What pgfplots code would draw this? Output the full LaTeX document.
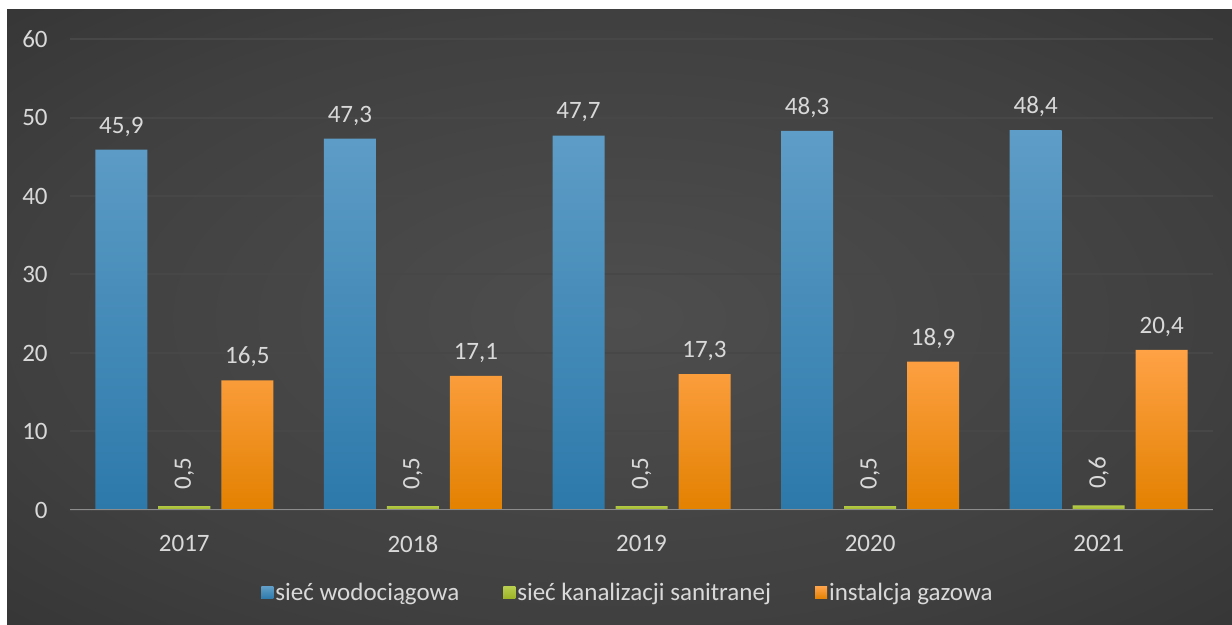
\documentclass[border=0pt]{standalone}
\usepackage{pgfplots}
\pgfplotsset{compat=1.18}
\usepackage{fontspec}
\setmainfont{Carlito}
\definecolor{bgin}{HTML}{4E4E4E}
\definecolor{bgout}{HTML}{2A2A2A}
\definecolor{txt}{HTML}{D9D9D9}
\definecolor{gridc}{HTML}{474747}
\definecolor{axc}{HTML}{8C8C8C}
\definecolor{bluetop}{HTML}{5E9DC7}
\definecolor{bluebot}{HTML}{2C79AA}
\definecolor{greentop}{HTML}{B7CD4C}
\definecolor{greenbot}{HTML}{9CB325}
\definecolor{orangetop}{HTML}{FFA246}
\definecolor{orangemid}{HTML}{FF9300}
\definecolor{orangebot}{HTML}{E38100}
\pgfdeclareradialshading{bgshade}{\pgfpoint{0bp}{0bp}}{color(0bp)=(bgin); color(25bp)=(bgin!60!bgout); color(50bp)=(bgout); color(100bp)=(bgout)}
\begin{document}
\begin{tikzpicture}
\useasboundingbox (0,0) rectangle (616pt,312.5pt);
\fill[white] (0,0) rectangle (616pt,312.5pt);
\shade[shading=bgshade] (3.5pt,0) rectangle (616pt,307.5pt);
\begin{axis}[
  at={(35pt,57.5pt)}, anchor=south west,
  scale only axis, width=571.5pt, height=235.5pt,
  xmin=-0.5, xmax=4.5, ymin=0, ymax=60,
  ybar=5.5pt, bar width=26pt,
  xtick=data, xticklabels={2017,2018,2019,2020,2021},
  ytick={0,10,20,30,40,50,60},
  axis line style={draw=none},
  major tick length=0pt,
  ymajorgrids, major grid style={draw=gridc, line width=1pt},
  tick label style={font=\fontsize{12.5}{14}\selectfont, text=txt, inner sep=0pt},
  yticklabel style={anchor=east, xshift=-11pt},
  xticklabel style={anchor=north, yshift=-12.5pt},
  /pgf/number format/assume math mode=true,
  nodes near coords,
  nodes near coords style={font=\fontsize{12.5}{14}\selectfont, text=txt, inner sep=0pt,
    /pgf/number format/fixed, /pgf/number format/fixed zerofill,
    /pgf/number format/precision=1, /pgf/number format/use comma},
  legend style={draw=none, fill=none, at={(0.4882,-0.1762)}, anchor=center,
    legend columns=-1, font=\fontsize{12.5}{14}\selectfont, text=txt,
    /tikz/every even column/.append style={column sep=21pt},
    nodes={inner xsep=1pt}},
  legend cell align=left,
]
\addplot[draw=none, top color=bluetop, bottom color=bluebot,
  every node near coord/.append style={anchor=base, yshift=8.3pt},
  legend image code/.code={\fill[bluetop!60!bluebot] (0pt,-3pt) rectangle (6pt,3pt);}]
  coordinates {(0,45.9) (1,47.3) (2,47.7) (3,48.3) (4,48.4)};
\addplot[draw=none, top color=greentop, bottom color=greenbot,
  every node near coord/.append style={rotate=90, anchor=west, inner xsep=8pt},
  legend image code/.code={\fill[greentop!50!greenbot] (0pt,-3pt) rectangle (6pt,3pt);}]
  coordinates {(0,0.5) (1,0.5) (2,0.5) (3,0.5) (4,0.6)};
\addplot[draw=none, top color=orangetop, middle color=orangemid, bottom color=orangebot,
  every node near coord/.append style={anchor=base, yshift=8.3pt},
  legend image code/.code={\fill[orangemid] (0pt,-3pt) rectangle (6pt,3pt);}]
  coordinates {(0,16.5) (1,17.1) (2,17.3) (3,18.9) (4,20.4)};
\legend{sieć wodociągowa, sieć kanalizacji sanitranej, instalcja gazowa}
\draw[axc, line width=1.3pt] (rel axis cs:0,0) -- (rel axis cs:1,0);
\end{axis}
\end{tikzpicture}
\end{document}
